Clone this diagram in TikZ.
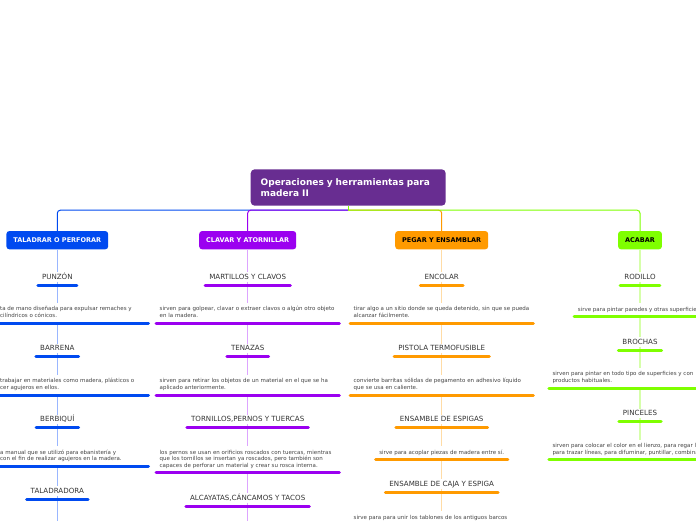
\documentclass[tikz,border=0pt]{standalone}
\usepackage{fontspec}
\setmainfont{DejaVu Sans}
\definecolor{rootC}{HTML}{682D91}
\definecolor{bC}{HTML}{004AF0}
\definecolor{pC}{HTML}{9B00F0}
\definecolor{oC}{HTML}{FF9A00}
\definecolor{gC}{HTML}{7FFF00}
\definecolor{bL}{HTML}{99B6FF}
\definecolor{pL}{HTML}{DDA4FF}
\definecolor{oL}{HTML}{FFDCA6}
\definecolor{gL}{HTML}{D6FFAA}
\definecolor{labelC}{HTML}{333333}
\definecolor{descC}{HTML}{444444}
\newcommand\dsstrut{\rule[-1.5pt]{0pt}{6.1pt}}
\newcommand\LB[2]{\draw[bar,#1] ([yshift=-3.6pt]#2.south west) -- ([yshift=-3.6pt]#2.south east);}
\newcommand\DB[2]{\draw[bar,#1] ([yshift=-1pt]#2.south west) -- ([yshift=-1pt]#2.south east);}
\tikzset{
  rootbox/.style={fill=rootC, rounded corners=4pt, text=white, font=\fontsize{9}{11}\selectfont\bfseries, align=left, text width=175pt, inner xsep=10pt, inner ysep=0pt, minimum height=36.4pt},
  branch/.style={rounded corners=3pt, font=\fontsize{6.5}{7}\selectfont\bfseries, inner xsep=7pt, inner ysep=0pt, minimum height=18.3pt, text height=4.7pt, text depth=0pt},
  lbl/.style={font=\fontsize{7.1}{8}\selectfont, text=labelC, anchor=base, inner xsep=4pt, inner ysep=2pt, text height=5.2pt, text depth=0pt},
  dsc/.style={font=\fontsize{5.5}{6.6}\selectfont, text=descC, align=left, text width=176pt, inner xsep=3.5pt, inner ysep=3pt, anchor=north},
  dscn/.style={font=\fontsize{5.5}{6.6}\selectfont, text=descC, align=left, inner xsep=3.5pt, inner ysep=3pt},
  bar/.style={line width=3pt, line cap=round},
  conn/.style={line width=1pt, rounded corners=3pt},
  lite/.style={line width=1.3pt},
}
\begin{document}
\begin{tikzpicture}[x=1pt,y=-1pt]
\useasboundingbox (0,0) rectangle (696,520);
\fill[white] (0,0) rectangle (696,520);
\clip (0,0) rectangle (696,520);

% root
\node[rootbox] (root) at (348.2,187.5) {\mbox{Operaciones y herramientas para}\\madera II};
\path (root.south) ++(0,4.3) coordinate (hub);

% branches
\node[branch, fill=bC, text=white] (tb) at (57.3,240.2) {TALADRAR O PERFORAR};
\node[branch, fill=pC, text=white] (tp) at (247.7,240.2) {CLAVAR Y ATORNILLAR};
\node[branch, fill=oC, text=black] (to) at (441.7,240.2) {PEGAR Y ENSAMBLAR};
\node[branch, fill=gC, text=black] (tg) at (640,240.2) {ACABAR};

% blue column
\node[lbl] (b1) at (57.3,279.3) {PUNZÓN};
\node[dscn, anchor=north west] (bd1) at (-3.5,302.9) {\dsstrut ta de mano diseñada para expulsar remaches y\\cilíndricos o cónicos.\dsstrut};
\node[lbl] (b2) at (57.3,350.9) {BARRENA};
\node[dscn, anchor=north west] (bd2) at (-3.5,374.9) {\dsstrut trabajar en materiales como madera, plásticos o\\cer agujeros en ellos.\dsstrut};
\node[lbl] (b3) at (57.3,421.9) {BERBIQUÍ};
\node[dscn, anchor=north west] (bd3) at (-3.5,446.2) {\dsstrut a manual que se utilizó para ebanistería y\\con el fin de realizar agujeros en la madera.\dsstrut};
\node[lbl] (b4) at (57.3,493.6) {TALADRADORA};
\coordinate (bend) at (57.3,530);

% purple column
\node[lbl] (p1) at (247.7,279.3) {MARTILLOS Y CLAVOS};
\node[dsc] (pd1) at (247.7,302.9) {\dsstrut sirven para golpear, clavar o extraer clavos o algún otro objeto\\en la madera.\dsstrut};
\node[lbl] (p2) at (247.7,350.9) {TENAZAS};
\node[dsc] (pd2) at (247.7,374.9) {\dsstrut sirven para retirar los objetos de un material en el que se ha\\aplicado anteriormente.\dsstrut};
\node[lbl] (p3) at (247.7,421.9) {TORNILLOS,PERNOS Y TUERCAS};
\node[dsc] (pd3) at (247.7,446.2) {\dsstrut los pernos se usan en orificios roscados con tuercas, mientras\\que los tornillos se insertan ya roscados, pero también son\\capaces de perforar un material y crear su rosca interna.\dsstrut};
\node[lbl] (p4) at (247.7,500.3) {ALCAYATAS,CÁNCAMOS Y TACOS};
\coordinate (pend) at (247.7,530);

% orange column
\node[lbl] (o1) at (441.7,279.3) {ENCOLAR};
\node[dsc] (od1) at (441.7,302.9) {\dsstrut tirar algo a un sitio donde se queda detenido, sin que se pueda\\alcanzar fácilmente.\dsstrut};
\node[lbl] (o2) at (441.7,350.9) {PISTOLA TERMOFUSIBLE};
\node[dsc] (od2) at (441.7,374.9) {\dsstrut convierte barritas sólidas de pegamento en adhesivo líquido\\que se usa en caliente.\dsstrut};
\node[lbl] (o3) at (441.7,421.9) {ENSAMBLE DE ESPIGAS};
\node[dscn, anchor=north] (od3) at (441.7,446.2) {\dsstrut sirve para acoplar piezas de madera entre sí.\dsstrut};
\node[lbl] (o4) at (441.7,486.6) {ENSAMBLE DE CAJA Y ESPIGA};
\node[dsc] (od4) at (441.7,511.2) {\dsstrut sirve para para unir los tablones de los antiguos barcos\dsstrut};

% green column
\node[lbl] (g1) at (640,279.3) {RODILLO};
\node[dscn, anchor=north west] (gd1) at (574.2,303.2) {\dsstrut sirve para pintar paredes y otras superficie\dsstrut};
\node[lbl] (g2) at (640,344.3) {BROCHAS};
\node[dscn, anchor=north west] (gd2) at (548.8,367.9) {\dsstrut sirven para pintar en todo tipo de superficies y con\\productos habituales.\dsstrut};
\node[lbl] (g3) at (640,415.9) {PINCELES};
\node[dscn, anchor=north west] (gd3) at (548.8,439.6) {\dsstrut sirven para colocar el color en el lienzo, para regar l\\para trazar líneas, para difuminar, puntillar, combina\dsstrut};

% root connectors
\draw[conn, bC] (hub) -| (tb.north);
\draw[conn, oC] (hub) -| (to.north);
\draw[conn, pC] (hub) -| (tp.north);
\draw[conn, gC] (hub) -| (tg.north);
\draw[conn, gC] (root.south) -- (hub);

% light connectors
\draw[lite, bL] (tb.south) -- (b1.north);
\draw[lite, bL] (b1.south) -- (b1.south |- bd1.north);
\draw[lite, bL] (b2.north |- bd1.south) -- (b2.north);
\draw[lite, bL] (b2.south) -- (b2.south |- bd2.north);
\draw[lite, bL] (b3.north |- bd2.south) -- (b3.north);
\draw[lite, bL] (b3.south) -- (b3.south |- bd3.north);
\draw[lite, bL] (b4.north |- bd3.south) -- (b4.north);
\draw[lite, bL] (b4.south) -- (bend);

\draw[lite, pL] (tp.south) -- (p1.north);
\draw[lite, pL] (p1.south) -- (pd1.north);
\draw[lite, pL] (pd1.south) -- (p2.north);
\draw[lite, pL] (p2.south) -- (pd2.north);
\draw[lite, pL] (pd2.south) -- (p3.north);
\draw[lite, pL] (p3.south) -- (pd3.north);
\draw[lite, pL] (pd3.south) -- (p4.north);
\draw[lite, pL] (p4.south) -- (pend);

\draw[lite, oL] (to.south) -- (o1.north);
\draw[lite, oL] (o1.south) -- (od1.north);
\draw[lite, oL] (od1.south) -- (o2.north);
\draw[lite, oL] (o2.south) -- (od2.north);
\draw[lite, oL] (od2.south) -- (o3.north);
\draw[lite, oL] (o3.south) -- (od3.north);
\draw[lite, oL] (od3.south) -- (o4.north);
\draw[lite, oL] (o4.south) -- (od4.north);

\draw[lite, gL] (tg.south) -- (g1.north);
\draw[lite, gL] (g1.south) -- (g1.south |- gd1.north);
\draw[lite, gL] (g2.north |- gd1.south) -- (g2.north);
\draw[lite, gL] (g2.south) -- (g2.south |- gd2.north);
\draw[lite, gL] (g3.north |- gd2.south) -- (g3.north);
\draw[lite, gL] (g3.south) -- (g3.south |- gd3.north);

% label bars
\LB{bC}{b1} \LB{bC}{b2} \LB{bC}{b3} \LB{bC}{b4}
\LB{pC}{p1} \LB{pC}{p2} \LB{pC}{p3} \LB{pC}{p4}
\LB{oC}{o1} \LB{oC}{o2} \LB{oC}{o3} \LB{oC}{o4}
\LB{gC}{g1} \LB{gC}{g2} \LB{gC}{g3}

% description bars
\draw[bar,bC] ([yshift=-1pt]bd1.south west) ++(-5,0) -- ++(157,0);
\draw[bar,bC] ([yshift=-1pt]bd2.south west) ++(-5,0) -- ++(157,0);
\draw[bar,bC] ([yshift=-1pt]bd3.south west) ++(-5,0) -- ++(157,0);
\DB{pC}{pd1} \DB{pC}{pd2} \DB{pC}{pd3}
\DB{oC}{od1} \DB{oC}{od2} \DB{oC}{od3}
\draw[bar,gC] ([yshift=-1pt]gd1.south west) -- ++(200,0);
\draw[bar,gC] ([yshift=-1pt]gd2.south west) -- ++(200,0);
\draw[bar,gC] ([yshift=-1pt]gd3.south west) -- ++(200,0);
\end{tikzpicture}
\end{document}
